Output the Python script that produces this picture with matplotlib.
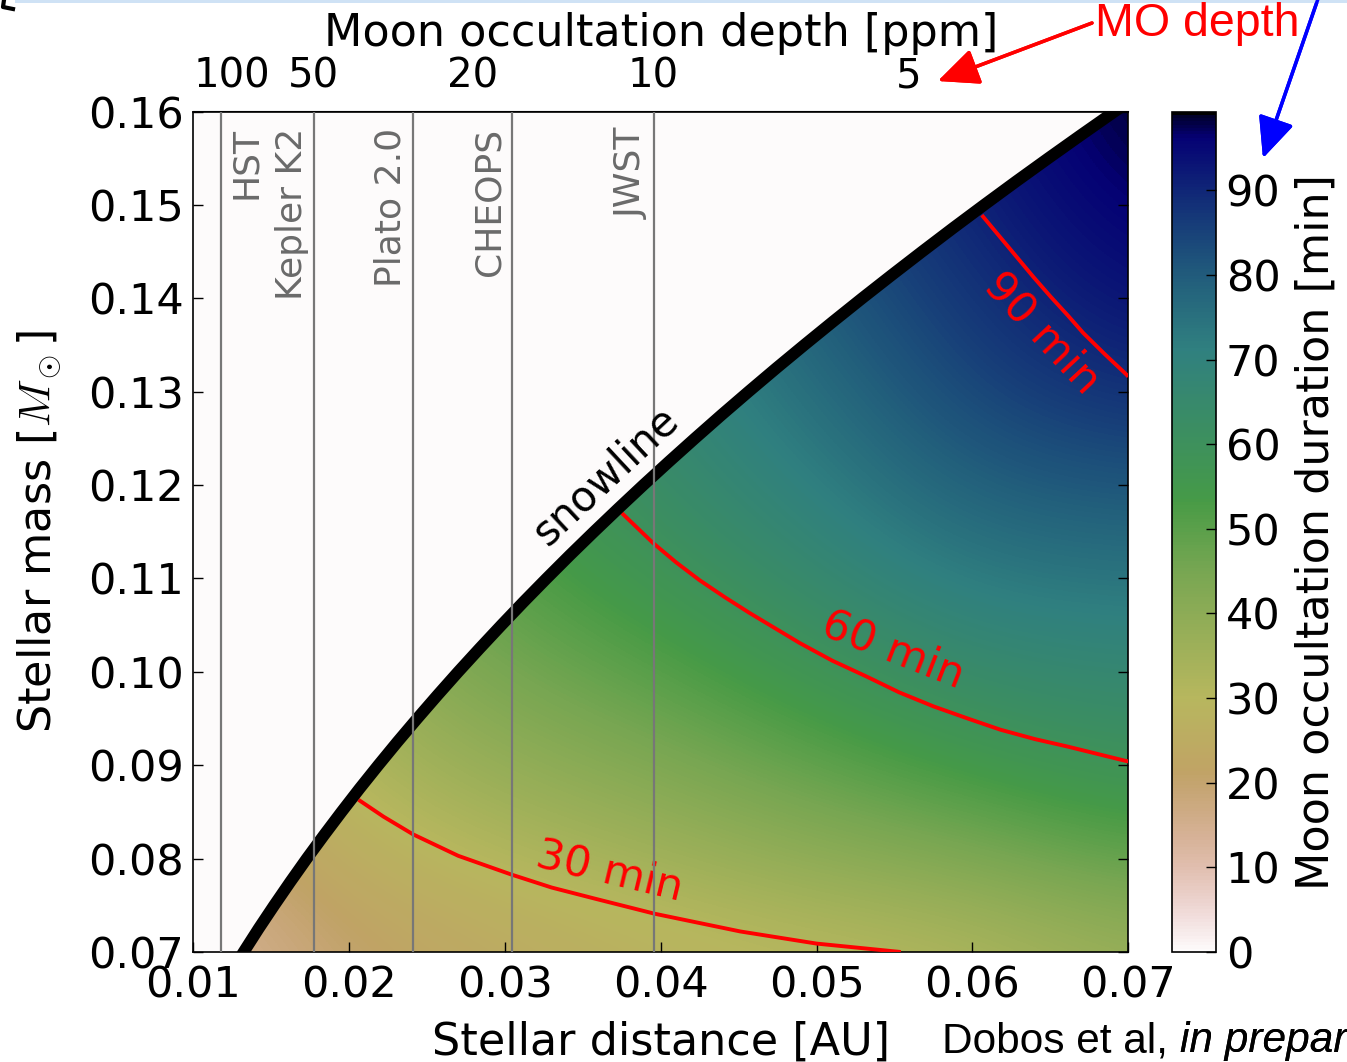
import numpy as np
import matplotlib
matplotlib.use("Agg")
import matplotlib.pyplot as plt
from matplotlib.patches import Rectangle
from matplotlib.lines import Line2D
from matplotlib.ticker import FormatStrFormatter

plt.rcParams['mathtext.fontset'] = 'cm'

# ── data ─────────────────────────────────────────────────────────────────────
# grid nodes: stellar distance [AU] (columns) and stellar mass [Msun] (rows)
a_nodes = [0.01, 0.02, 0.03, 0.04, 0.05, 0.06, 0.07]
m_nodes = [0.07, 0.08, 0.09, 0.10, 0.11, 0.12, 0.13, 0.14, 0.15, 0.16]
# moon occultation duration [min] at the nodes (estimated from colours/contours)
duration = [
    [12.0, 20.0, 24.0, 27.5, 29.5, 31.5, 37.0],   # 0.07
    [16.0, 26.0, 31.3, 35.0, 39.5, 43.0, 49.0],   # 0.08
    [20.0, 32.0, 38.5, 43.0, 49.0, 55.0, 59.8],   # 0.09
    [24.0, 37.0, 45.0, 50.5, 58.0, 65.0, 66.9],   # 0.10
    [28.0, 42.0, 50.5, 57.5, 66.0, 73.0, 74.2],   # 0.11
    [32.0, 46.0, 55.0, 63.5, 71.5, 79.5, 81.4],   # 0.12
    [35.0, 50.0, 59.0, 67.0, 76.0, 84.5, 88.7],   # 0.13
    [38.0, 53.0, 62.0, 70.0, 80.0, 87.5, 94.0],   # 0.14
    [41.0, 56.0, 65.0, 73.0, 83.0, 90.5, 97.3],   # 0.15
    [44.0, 59.0, 68.0, 75.0, 86.0, 93.0, 99.3],   # 0.16
]
cbar_max = 99.3

# snowline (distance vs mass)
snow_m = [0.0650, 0.0675, 0.0700, 0.0725, 0.0750, 0.0775, 0.0800, 0.0825, 0.0850,
          0.0875, 0.0900, 0.0925, 0.0950, 0.0975, 0.1000, 0.1025, 0.1050, 0.1075,
          0.1100, 0.1125, 0.1150, 0.1175, 0.1200, 0.1225, 0.1250, 0.1275, 0.1300,
          0.1325, 0.1350, 0.1375, 0.1400, 0.1425, 0.1450, 0.1475, 0.1500, 0.1525,
          0.1550, 0.1575, 0.1600, 0.1625, 0.1650]
snow_a = [0.01141, 0.01230, 0.01323, 0.01419, 0.01519, 0.01622, 0.01728, 0.01838, 0.01951,
          0.02067, 0.02187, 0.02310, 0.02437, 0.02567, 0.02700, 0.02837, 0.02977, 0.03120,
          0.03267, 0.03417, 0.03571, 0.03728, 0.03888, 0.04052, 0.04219, 0.04389, 0.04563,
          0.04740, 0.04921, 0.05105, 0.05292, 0.05483, 0.05677, 0.05874, 0.06075, 0.06279,
          0.06487, 0.06698, 0.06912, 0.07130, 0.07351]

# iso-duration contours
c30_a = [0.0206, 0.0222, 0.0241, 0.0270, 0.0304, 0.0330, 0.0358, 0.0396, 0.0451, 0.0500, 0.0554]
c30_m = [0.0863, 0.0845, 0.0826, 0.0803, 0.0783, 0.0769, 0.0757, 0.0741, 0.0722, 0.0709, 0.0700]
c60_a = [0.0375, 0.0395, 0.0410, 0.0425, 0.0441, 0.0457, 0.0489, 0.0510, 0.0532, 0.0553,
         0.0575, 0.0597, 0.0618, 0.0640, 0.0661, 0.0695, 0.0700]
c60_m = [0.1170, 0.1138, 0.1117, 0.1098, 0.1080, 0.1063, 0.1031, 0.1012, 0.0995, 0.0978,
         0.0963, 0.0950, 0.0938, 0.0928, 0.0920, 0.0906, 0.0904]
c90_a = [0.0606, 0.0617, 0.0628, 0.0639, 0.0650, 0.0661, 0.0671, 0.0685, 0.0699, 0.0700]
c90_m = [0.1489, 0.1467, 0.1445, 0.1423, 0.1402, 0.1382, 0.1363, 0.1340, 0.1318, 0.1316]
contour_labels = ["30 min", "60 min", "90 min"]

# instrument precision limits (distance where MO depth equals the noise level)
instruments = ["HST", "Kepler K2", "Plato 2.0", "CHEOPS", "JWST"]
instr_a = [0.01176, 0.01777, 0.02412, 0.03047, 0.03956]

# top axis: moon occultation depth [ppm]
depth_ticks = [100, 50, 20, 10, 5]
depth_at_ref = 100.0   # ppm at a_ref
a_ref = 0.0125         # AU

x_ticks = [0.01, 0.02, 0.03, 0.04, 0.05, 0.06, 0.07]
y_ticks = [0.07, 0.08, 0.09, 0.10, 0.11, 0.12, 0.13, 0.14, 0.15, 0.16]
cbar_ticks = [0, 10, 20, 30, 40, 50, 60, 70, 80, 90]


def a_to_depth(a):
    a = np.maximum(np.asarray(a, dtype=float), 1e-6)
    return depth_at_ref * (a_ref / a) ** 2


def depth_to_a(d):
    d = np.maximum(np.asarray(d, dtype=float), 1e-6)
    return a_ref * np.sqrt(depth_at_ref / d)


# ── canvas ───────────────────────────────────────────────────────────────────
W, H = 1347, 1062
fig = plt.figure(figsize=(W / 100, H / 100), dpi=100)
fig.patch.set_facecolor("white")

ax_l, ax_r, ax_t, ax_b = 193.3, 1128.3, 111.5, 952.0
ax = fig.add_axes([ax_l / W, 1 - ax_b / H, (ax_r - ax_l) / W, (ax_b - ax_t) / H])
cax = fig.add_axes([1172 / W, 1 - ax_b / H, 44 / W, (ax_b - ax_t) / H])

cmap = plt.get_cmap("gist_earth_r")
da, dm = 0.005, 0.005
im = ax.imshow(np.array(duration), origin="lower", cmap=cmap, vmin=0, vmax=cbar_max,
               extent=[a_nodes[0] - da, a_nodes[-1] + da, m_nodes[0] - dm, m_nodes[-1] + dm],
               aspect="auto", interpolation="bicubic", zorder=0)

# region inside the snowline
ax.fill_betweenx(snow_m, 0.0, snow_a, color=cmap(0.0), lw=0, zorder=1)

# contours
for xs, ys in [(c30_a, c30_m), (c60_a, c60_m), (c90_a, c90_m)]:
    ax.plot(xs, ys, color="red", lw=2.8, zorder=3, solid_capstyle="butt",
            solid_joinstyle="round")

ax.text(0.03674, 0.0786, contour_labels[0], color="red", fontsize=31, rotation=-13.5,
        ha="center", va="center", zorder=5)
ax.text(0.05492, 0.10234, contour_labels[1], color="red", fontsize=31, rotation=-21.5,
        ha="center", va="center", zorder=5)
ax.text(0.06444, 0.13625, contour_labels[2], color="red", fontsize=31, rotation=-47,
        ha="center", va="center", zorder=5)

# snowline
ax.plot(snow_a, snow_m, color="black", lw=8.5, zorder=4, solid_capstyle="butt",
        solid_joinstyle="round")
ax.text(0.03648, 0.12097, "snowline", color="black", fontsize=30, rotation=43,
        ha="center", va="center", zorder=6)

# instrument lines
for name, xa in zip(instruments, instr_a):
    ax.axvline(xa, color="#777777", lw=1.6, zorder=5)
    if name == "HST":
        off, ha = 6, "left"
    else:
        off, ha = -4, "right"
    ax.annotate(name, xy=(xa, 0.1583), xytext=(off, 0), textcoords="offset points",
                rotation=90, ha=ha, va="top", fontsize=26, color="#6a6a6a", zorder=6)

ax.set_xlim(0.01, 0.07)
ax.set_ylim(0.07, 0.16)
ax.set_xticks(x_ticks)
ax.set_yticks(y_ticks)
ax.xaxis.set_major_formatter(FormatStrFormatter("%.2f"))
ax.yaxis.set_major_formatter(FormatStrFormatter("%.2f"))
ax.tick_params(direction="in", length=7, width=1, labelsize=31, top=False, right=True)
ax.tick_params(axis="x", pad=9)
ax.tick_params(axis="y", pad=7)
for sp in ax.spines.values():
    sp.set_linewidth(1.2)

ax.set_xlabel("Stellar distance [AU]", fontsize=32)
ax.xaxis.set_label_coords(0.5, -0.082)
ax.set_ylabel(r"Stellar mass [$M_\odot$]", fontsize=32)
ax.yaxis.set_label_coords(-0.138, 0.5)

# top axis
sec = ax.secondary_xaxis("top", functions=(a_to_depth, depth_to_a))
sec.set_xticks(depth_ticks)
sec.set_xticklabels([str(d) for d in depth_ticks])
sec.tick_params(direction="in", length=7, width=1, labelsize=29, pad=11)
sec.set_xlabel("Moon occultation depth [ppm]", fontsize=32, labelpad=7)

# colorbar
cb = fig.colorbar(im, cax=cax, ticks=cbar_ticks)
cb.outline.set_linewidth(1.2)
cax.tick_params(direction="in", length=7, width=1, labelsize=31, pad=7)
cb.set_label("Moon occultation duration [min]", fontsize=32)
cax.yaxis.set_label_coords(2.78, 0.5)

# annotations added on the slide
fig.text(1095 / W, 1 - 36 / H, "MO depth", color="red", fontsize=33.5,
         family="Liberation Sans", va="baseline", ha="left")
fig.add_artist(plt.annotate("", xy=(938, H - 81), xycoords="figure pixels",
                            xytext=(1092, H - 23), textcoords="figure pixels",
                            arrowprops=dict(arrowstyle="-|>,head_length=1.0,head_width=0.45",
                                            mutation_scale=25, lw=2.5, color="red",
                                            shrinkA=0, shrinkB=0)))
fig.add_artist(plt.annotate("", xy=(1263, H - 158), xycoords="figure pixels",
                            xytext=(1328, H + 30), textcoords="figure pixels",
                            arrowprops=dict(arrowstyle="-|>,head_length=1.0,head_width=0.45",
                                            mutation_scale=25, lw=2.5, color="blue",
                                            shrinkA=0, shrinkB=0)))

t1 = fig.text(942 / W, 1 - 1061 / H, "Dobos et al, ", color="black", fontsize=30.5,
              family="Liberation Sans", va="bottom", ha="left")
fig.add_artist(plt.annotate("in preparation", xy=(1, 0), xycoords=t1, va="bottom", ha="left",
                            fontsize=30.5, style="italic", family="Liberation Sans"))

# slide border remnants
fig.add_artist(Rectangle((15 / W, 1 - 3 / H), 1, 3 / H, transform=fig.transFigure,
                         color="#cfe2f5", lw=0))
fig.add_artist(Line2D([4 / W, 3 / W, 13 / W], [1, 1 - 7 / H, 1 - 9 / H],
                      transform=fig.transFigure, color="black", lw=3))

fig.savefig("out.png", dpi=100, facecolor="white")
